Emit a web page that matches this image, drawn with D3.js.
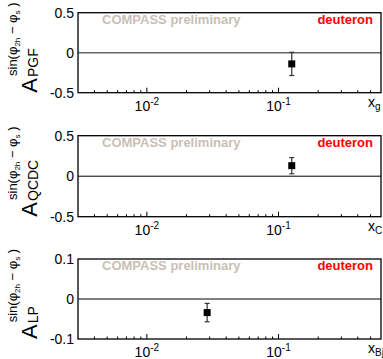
<!DOCTYPE html>
<html>
<head>
<meta charset="utf-8">
<script src="https://cdn.jsdelivr.net/npm/d3@7"></script>
<style>
  body { margin: 0; background: #fff; }
  svg { display: block; font-family: "Liberation Sans", Arial, sans-serif; }
</style>
</head>
<body>
<div id="chart"></div>
<script>
// one entry per pad
const processes = ['PGF', 'QCDC', 'LP'];
const xVarSubs = ['g', 'C', 'Bj'];
const xVals = [0.126, 0.126, 0.0287];
const yVals = [-0.14, 0.13, -0.034];
const yErrs = [0.145, 0.10, 0.023];
const yMax = [0.5, 0.5, 0.1];
const yTickLabels = [['0.5', '0', '-0.5'], ['0.5', '0', '-0.5'], ['0.1', '0', '-0.1']];
const xDomain = [0.003, 0.6];
const xMajor = [0.01, 0.1];

const W = 383, H = 359;
const frameLeft = 78, frameRight = 381;
const frameTops = [12.7, 135.7, 259];
const frameHeights = [80, 81, 80];

const svg = d3.select('#chart').append('svg')
  .attr('width', W).attr('height', H);

const x = d3.scaleLog().domain(xDomain).range([frameLeft, frameRight]);

// minor ticks 2..9 x 10^k inside domain
let minors = [];
for (let k = -3; k <= 0; k++) {
  for (let m = 2; m <= 9; m++) {
    const v = m * Math.pow(10, k);
    if (v > xDomain[0] && v < xDomain[1]) minors.push(v);
  }
}

processes.forEach((proc, i) => {
  const top = frameTops[i];
  const bottom = top + frameHeights[i];
  const y = d3.scaleLinear().domain([-yMax[i], yMax[i]]).range([bottom, top]);
  const g = svg.append('g');

  // zero line
  g.append('line')
    .attr('x1', frameLeft).attr('x2', frameRight)
    .attr('y1', y(0)).attr('y2', y(0))
    .attr('stroke', i == 0 ? '#666' : '#000')
    .attr('stroke-width', i == 0 ? 1.6 : 1);

  // frame
  g.append('rect')
    .attr('x', frameLeft).attr('y', top)
    .attr('width', frameRight - frameLeft).attr('height', bottom - top)
    .attr('fill', 'none').attr('stroke', '#000').attr('stroke-width', 1.3);

  // x ticks (inside)
  g.selectAll('.minor').data(minors).join('line')
    .attr('x1', d => x(d)).attr('x2', d => x(d))
    .attr('y1', bottom).attr('y2', bottom - 2.5)
    .attr('stroke', '#000').attr('stroke-width', 1);
  g.selectAll('.major').data(xMajor).join('line')
    .attr('x1', d => x(d)).attr('x2', d => x(d))
    .attr('y1', bottom).attr('y2', bottom - 5)
    .attr('stroke', '#000').attr('stroke-width', 1);

  // x tick labels 10^k
  xMajor.forEach(v => {
    const t = g.append('text')
      .attr('x', x(v)).attr('y', bottom + 18)
      .attr('text-anchor', 'middle')
      .attr('font-size', 14);
    t.append('tspan').text('10');
    t.append('tspan').attr('dy', -6).attr('font-size', 10).text(String(Math.round(Math.log10(v))));
  });

  // y tick labels
  const yv = [yMax[i], 0, -yMax[i]];
  g.selectAll('.ylab').data(yv).join('text')
    .attr('x', 74).attr('y', d => y(d) + 5)
    .attr('text-anchor', 'end')
    .attr('font-size', 14)
    .text((d, j) => yTickLabels[i][j]);

  // x axis title
  const xt = g.append('text')
    .attr('x', 368).attr('y', bottom + 14)
    .attr('font-size', 14);
  xt.append('tspan').text('x');
  xt.append('tspan').attr('dy', 3).attr('font-size', 10).text(xVarSubs[i]);

  // y axis title, rotated
  const yt = g.append('g')
    .attr('transform', 'translate(37,' + bottom + ') rotate(-90)');
  const a = yt.append('text').attr('x', 0).attr('y', 0)
    .attr('font-size', 22).text('A');
  const aw = a.node().getComputedTextLength() + 1;
  yt.append('text').attr('x', aw).attr('y', 1)
    .attr('font-size', 14).text(proc);
  const sup = yt.append('text').attr('x', aw + 1).attr('y', -20)
    .attr('font-size', 13);
  sup.append('tspan').text('sin(\u03c6');
  sup.append('tspan').attr('dy', 3).attr('font-size', 8).text('2h');
  sup.append('tspan').attr('dy', -3).text(' \u2212 \u03c6');
  sup.append('tspan').attr('dy', 3).attr('font-size', 8).text('s');
  sup.append('tspan').attr('dy', -3).text(' )');

  // labels in frame
  g.append('text')
    .attr('x', 102).attr('y', top + 11)
    .attr('font-size', 13).attr('font-weight', 'bold')
    .attr('fill', '#c9bfb4')
    .text('COMPASS preliminary');
  g.append('text')
    .attr('x', 373).attr('y', top + 11)
    .attr('text-anchor', 'end')
    .attr('font-size', 13).attr('font-weight', 'bold')
    .attr('fill', '#ff0000')
    .text('deuteron');

  // data point with error bar
  const px = x(xVals[i]);
  g.append('line')
    .attr('x1', px).attr('x2', px)
    .attr('y1', y(yVals[i] + yErrs[i])).attr('y2', y(yVals[i] - yErrs[i]))
    .attr('stroke', '#333').attr('stroke-width', 1.2);
  [yVals[i] + yErrs[i], yVals[i] - yErrs[i]].forEach(v => {
    g.append('line')
      .attr('x1', px - 2.5).attr('x2', px + 2.5)
      .attr('y1', y(v)).attr('y2', y(v))
      .attr('stroke', '#333').attr('stroke-width', 1.2);
  });
  g.append('rect')
    .attr('x', px - 3.5).attr('y', y(yVals[i]) - 3.5)
    .attr('width', 7).attr('height', 7)
    .attr('fill', '#000');
});
</script>
</body>
</html>
